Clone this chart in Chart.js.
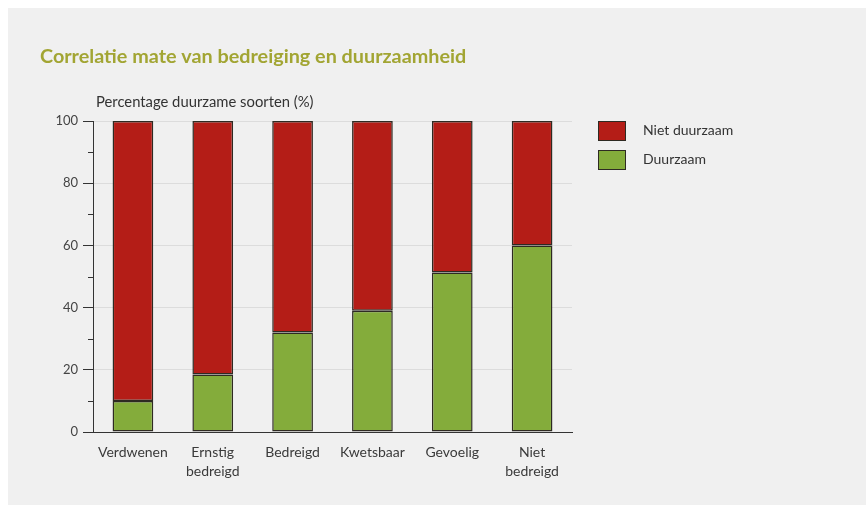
<!DOCTYPE html>
<html>
<head>
<meta charset="utf-8">
<script src="https://cdn.jsdelivr.net/npm/chart.js@4/dist/chart.umd.min.js"></script>
<style>
  html, body { margin: 0; padding: 0; background: #ffffff; }
  #panel { position: absolute; left: 8px; top: 8px; width: 858px; height: 497px; background: #f0f0f0; }
  canvas { display: block; }
</style>
</head>
<body>
<div id="panel"><canvas id="chart" width="858" height="497"></canvas></div>
<script>
// Threat categories (multi-line labels) and share of sustainable species per category
const categories = ['Verdwenen', ['Ernstig', 'bedreigd'], 'Bedreigd', 'Kwetsbaar', 'Gevoelig', ['Niet', 'bedreigd']];
const duurzaam = [10, 18.5, 32, 39, 51.3, 60];
const nietDuurzaam = [90, 81.5, 68, 61, 48.7, 40];
const yTicks = [0, 20, 40, 60, 80, 100];
const yMinorTicks = [10, 30, 50, 70, 90];

const chartTitle = 'Correlatie mate van bedreiging en duurzaamheid';
const yAxisTitle = 'Percentage duurzame soorten (%)';

const FONT = 'Lato, "Open Sans", sans-serif';
const EDGE = '#2e2a22';

// Title, horizontal axis caption, minor ticks and the legend on the right
const decorations = {
  id: 'decorations',
  afterDraw(chart) {
    const ctx = chart.ctx;
    const area = chart.chartArea;
    const y = chart.scales.y;
    ctx.save();

    ctx.fillStyle = '#a2a533';
    ctx.font = 'bold 19.8px ' + FONT;
    ctx.textBaseline = 'middle';
    ctx.textAlign = 'left';
    ctx.fillText(chartTitle, 32, 49);

    ctx.fillStyle = '#333333';
    ctx.font = '14.8px ' + FONT;
    ctx.fillText(yAxisTitle, 88, 94);

    ctx.strokeStyle = '#333333';
    ctx.lineWidth = 1;
    yMinorTicks.forEach(v => {
      const py = Math.round(y.getPixelForValue(v)) + 0.5;
      ctx.beginPath();
      ctx.moveTo(area.left - 5, py);
      ctx.lineTo(area.left, py);
      ctx.stroke();
    });

    const items = chart.data.datasets.slice().reverse();
    items.forEach((ds, i) => {
      const bx = 590, by = 113 + i * 29;
      ctx.fillStyle = ds.backgroundColor;
      ctx.fillRect(bx, by, 28, 20);
      ctx.strokeStyle = EDGE;
      ctx.strokeRect(bx + 0.5, by + 0.5, 27, 19);
      ctx.fillStyle = '#333333';
      ctx.font = '14px ' + FONT;
      ctx.textBaseline = 'middle';
      ctx.fillText(ds.label, 635, by + 9);
    });
    ctx.restore();
  }
};

const barStyle = {
  borderColor: EDGE, borderWidth: 1.5, borderSkipped: false, inflateAmount: 0,
  barPercentage: 0.51, categoryPercentage: 1.0
};

new Chart(document.getElementById('chart'), {
  type: 'bar',
  data: {
    labels: categories,
    datasets: [
      Object.assign({ label: 'Duurzaam', data: duurzaam, backgroundColor: '#84ac3b' }, barStyle),
      Object.assign({ label: 'Niet duurzaam', data: nietDuurzaam, backgroundColor: '#b41d17' }, barStyle)
    ]
  },
  options: {
    responsive: false,
    animation: false,
    devicePixelRatio: 1,
    layout: { padding: { left: 0, top: 113, right: 294, bottom: 0 } },
    plugins: {
      legend: { display: false },
      title: { display: false },
      tooltip: { enabled: false }
    },
    scales: {
      x: {
        stacked: true,
        grid: { display: false },
        border: { color: '#333333', width: 1 },
        ticks: {
          color: '#3a3a3a',
          font: { family: FONT, size: 14, lineHeight: 1.35 },
          padding: 3,
          maxRotation: 0
        },
        afterFit(scale) { scale.height = 73; }
      },
      y: {
        stacked: true,
        min: 0,
        max: 100,
        afterBuildTicks(scale) { scale.ticks = yTicks.map(v => ({ value: v })); },
        ticks: {
          color: '#444444',
          font: { family: FONT, size: 13 },
          padding: 5
        },
        grid: {
          color: ctx => (ctx.tick && ctx.tick.value === 0) ? 'rgba(0,0,0,0)' : '#dcdcdc',
          tickColor: '#333333',
          tickLength: 10,
          lineWidth: 1
        },
        border: { color: '#333333', width: 1 },
        afterFit(scale) { scale.width = 85; }
      }
    }
  },
  plugins: [decorations]
});
</script>
</body>
</html>
